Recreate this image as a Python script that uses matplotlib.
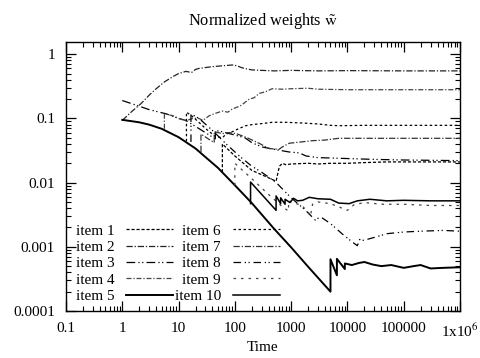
import matplotlib
matplotlib.use("Agg")
import matplotlib.pyplot as plt

plt.rcParams['font.family'] = ['Liberation Serif', 'DejaVu Serif']
plt.rcParams['mathtext.fontset'] = 'stix'

# ---- data ----
# item 5: common decaying weight, saw-tooth at 5000, then plateau
t5 = [1, 2, 3, 5, 10, 20, 30, 50, 100, 200, 500, 1000, 2000, 5000, 5000, 6500, 6500,
      9000, 9000, 12000, 16000, 20000, 28000, 40000, 60000, 100000, 150000, 200000,
      300000, 500000, 1000000]
w5 = [0.095, 0.087, 0.080, 0.069, 0.051, 0.034, 0.025, 0.017, 0.0091, 0.0048, 0.0019,
      0.00098, 0.00049, 0.0002, 0.00064, 0.00036, 0.00065, 0.00045, 0.00055, 0.00052,
      0.00056, 0.00058, 0.00053, 0.0005, 0.00052, 0.00047, 0.0005, 0.00052, 0.00046,
      0.00047, 0.00048]

# item 2: rises to ~0.55
t2 = [1, 1.5, 2.15, 3, 4, 5.6, 8, 10, 13.5, 17, 20, 23, 30, 40, 60, 90, 110, 130, 150,
      200, 300, 500, 1000, 3000, 10000, 100000, 1000000]
w2 = [0.093, 0.13, 0.17, 0.23, 0.29, 0.37, 0.45, 0.5, 0.54, 0.52, 0.58, 0.6, 0.62, 0.64,
      0.66, 0.68, 0.66, 0.62, 0.6, 0.57, 0.56, 0.55, 0.56, 0.55, 0.555, 0.55, 0.55]

# item 4: settles at ~0.28
t4 = [5.6, 5.6, 8, 10, 13.5, 18, 23, 27, 35, 45, 60, 75, 90, 110, 130, 180, 220, 270,
      350, 460, 700, 1000, 2000, 3000, 10000, 100000, 1000000]
w4 = [0.069, 0.118, 0.11, 0.1, 0.092, 0.1, 0.1, 0.093, 0.11, 0.12, 0.13, 0.125, 0.14,
      0.15, 0.16, 0.2, 0.21, 0.245, 0.26, 0.29, 0.285, 0.29, 0.295, 0.285, 0.28, 0.28, 0.28]

# item 3: starts at ~0.19, ends ~0.022
t3 = [1, 2, 3, 6, 10, 13.5, 20, 30, 45, 45, 60, 80, 100, 150, 200, 300, 500, 920, 1400,
      1840, 3000, 10000, 30000, 100000, 1000000]
w3 = [0.19, 0.155, 0.137, 0.118, 0.1, 0.093, 0.075, 0.06, 0.048, 0.065, 0.062, 0.058,
      0.055, 0.05, 0.042, 0.036, 0.033, 0.030, 0.029, 0.026, 0.0245, 0.0237, 0.023,
      0.0225, 0.022]

# item 6: ends ~0.078
t6 = [13.8, 13.8, 17, 22, 30, 45, 60, 70, 90, 120, 157, 200, 300, 460, 800, 1500, 3000,
      5000, 7000, 20000, 100000, 1000000]
w6 = [0.044, 0.125, 0.11, 0.09, 0.07, 0.052, 0.05, 0.057, 0.062, 0.07, 0.077, 0.08,
      0.083, 0.087, 0.087, 0.085, 0.082, 0.078, 0.077, 0.078, 0.078, 0.078]

# item 7: ends ~0.049
t7 = [25, 25, 35, 43, 43, 60, 80, 105, 157, 270, 400, 610, 700, 920, 1500, 2400, 4000,
      7000, 20000, 100000, 1000000]
w7 = [0.030, 0.057, 0.047, 0.042, 0.062, 0.058, 0.06, 0.058, 0.051, 0.041, 0.034, 0.033,
      0.036, 0.041, 0.043, 0.045, 0.046, 0.049, 0.049, 0.049, 0.049]

# item 1: jumps at ~600, ends ~0.021
t1 = [60, 60, 100, 200, 350, 540, 580, 620, 700, 800, 1000, 1500, 2000, 3000, 5000,
      10000, 20000, 50000, 100000, 300000, 1000000]
w1 = [0.0145, 0.04, 0.026, 0.0155, 0.0125, 0.0105, 0.014, 0.018, 0.02, 0.019, 0.0195,
      0.0198, 0.02, 0.0195, 0.02, 0.02, 0.0205, 0.021, 0.021, 0.021, 0.021]

# item 8: long decay, minimum near 15000, ends ~0.0018
t8 = [16.6, 16.6, 23.4, 40, 70, 120, 200, 300, 537, 1000, 1800, 2700, 3200, 3600, 5000,
      8000, 12000, 15000, 16500, 18000, 22000, 30000, 50000, 100000, 200000, 500000,
      1000000]
w8 = [0.043, 0.118, 0.099, 0.065, 0.04, 0.026, 0.018, 0.0145, 0.0101, 0.0058, 0.0037,
      0.0026, 0.0029, 0.0028, 0.0023, 0.0016, 0.0012, 0.00104, 0.0013, 0.00125, 0.0013,
      0.0014, 0.0016, 0.0017, 0.00175, 0.0018, 0.00175]

# item 9: ends ~0.0044
t9 = [100, 100, 200, 400, 700, 900, 900, 1100, 1500, 2000, 2200, 2400, 3000, 5000, 8000,
      10000, 13000, 20000, 40000, 100000, 300000, 1000000]
w9 = [0.0091, 0.02, 0.0115, 0.0065, 0.0042, 0.0036, 0.0052, 0.0048, 0.0045, 0.0035,
      0.003, 0.0046, 0.005, 0.0047, 0.004, 0.0037, 0.0045, 0.0049, 0.0046, 0.0046,
      0.0044, 0.0044]

# item 10: saw-tooth from 190, ends ~0.0052
t10 = [190, 190, 540, 540, 650, 650, 780, 780, 950, 1100, 1300, 1600, 2100, 3000, 5000,
       7000, 10700, 15000, 25000, 50000, 100000, 300000, 1000000]
w10 = [0.0047, 0.0102, 0.0037, 0.0062, 0.0047, 0.0058, 0.0046, 0.0055, 0.0049, 0.0057,
       0.0052, 0.0053, 0.0059, 0.0056, 0.0055, 0.0048, 0.0047, 0.0052, 0.0055, 0.0052,
       0.0053, 0.0052, 0.0052]

x_ticks = [0.1, 1, 10, 100, 1000, 10000, 100000, 1000000]
x_labels = ['0.1', '1', '10', '100', '1000', '10000', '100000', '1x10$^{6}$']
y_ticks = [0.0001, 0.001, 0.01, 0.1, 1]
y_labels = ['0.0001', '0.001', '0.01', '0.1', '1']

series = [
    ('item 1', t1, w1, dict(color='black', lw=0.9, dashes=(2.5, 1.5))),
    ('item 2', t2, w2, dict(color='#222222', lw=0.9, dashes=(5, 1.5, 1, 1.5))),
    ('item 3', t3, w3, dict(color='black', lw=0.9, dashes=(7, 2.5, 1, 2, 1, 2.5))),
    ('item 4', t4, w4, dict(color='#444444', lw=0.9, dashes=(4, 1.5, 1, 1.5))),
    ('item 5', t5, w5, dict(color='black', lw=1.4, linestyle='-')),
    ('item 6', t6, w6, dict(color='black', lw=0.9, dashes=(2, 2))),
    ('item 7', t7, w7, dict(color='#333333', lw=0.9, dashes=(5, 1.5, 1, 1.5))),
    ('item 8', t8, w8, dict(color='black', lw=0.9, dashes=(6, 3, 1, 2, 1, 3))),
    ('item 9', t9, w9, dict(color='#444444', lw=0.9, dashes=(2, 4))),
    ('item 10', t10, w10, dict(color='black', lw=1.1, linestyle='-')),
]

fs = 11
fig = plt.figure(figsize=(4.81, 3.58), dpi=100)
ax = fig.add_axes([66 / 481, 1 - 311 / 358, 394 / 481, 269 / 358])

for name, t, w, st in series:
    ax.plot(t, w, label=name, **st)

ax.set_xscale('log')
ax.set_yscale('log')
ax.set_xlim(0.1, 1e6)
ax.set_ylim(1e-4, 1.55)
ax.set_xticks(x_ticks, labels=x_labels)
ax.set_yticks(y_ticks, labels=y_labels)
ax.tick_params(which='both', direction='in', top=True, right=True, labelsize=fs)
ax.tick_params(which='major', length=7, width=0.9)
ax.tick_params(axis='x', which='major', pad=8)
ax.tick_params(axis='y', which='major', pad=8)
ax.tick_params(which='minor', length=3.5, width=0.8)
for s in ax.spines.values():
    s.set_linewidth(1.0)

ax.set_title(r'Normalized weights $\tilde{\mathrm{w}}$', fontsize=11.8, pad=12)
ax.set_xlabel('Time', fontsize=fs, labelpad=1)

h, l = ax.get_legend_handles_labels()
leg = ax.legend(h, l, ncol=2, loc='lower left', bbox_to_anchor=(0.025, 0.03),
                frameon=False, markerfirst=False, fontsize=fs, handlelength=3.1,
                handletextpad=0.75, columnspacing=0.1, labelspacing=0.17,
                borderpad=0.0, borderaxespad=0.0)

fig.savefig('out.png', dpi=100)
